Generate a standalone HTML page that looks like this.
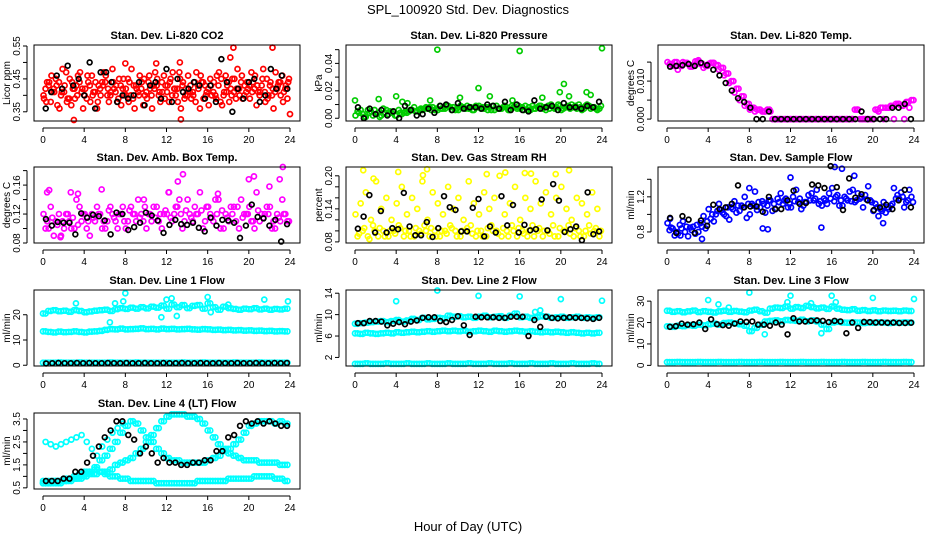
<!DOCTYPE html>
<html><head><meta charset="utf-8"><style>
body{margin:0;background:#fff;}
svg{display:block;font-family:"Liberation Sans",sans-serif;}
</style></head><body>
<svg id="chart" width="936" height="540" viewBox="0 0 936 540">
<rect x="0" y="0" width="936" height="540" fill="#fff"/>
<text x="468" y="14" text-anchor="middle" font-size="13">SPL_100920  Std. Dev. Diagnostics</text>
<text x="468" y="531" text-anchor="middle" font-size="13">Hour of Day (UTC)</text>
</svg>
<script>
// ---- data ----
const hourTicks = [0,4,8,12,16,20,24];
// CO2 (ppm)
const co2A = [0.42,0.38,0.45,0.40,0.47,0.37,0.43,0.41,0.39,0.46,0.36,0.44,0.40,0.48,0.38,0.42,0.45,0.39,0.41,0.37,0.44,0.43,0.40,0.46,0.38,0.42,0.47,0.39,0.41,0.44,0.36,0.43,0.45,0.40,0.38,0.46,0.42,0.39,0.44,0.41,0.47,0.37,0.43,0.45,0.40,0.42,0.46,0.39];
const co2B = [0.39,0.44,0.41,0.36,0.43,0.45,0.39,0.47,0.42,0.38,0.44,0.40,0.46,0.41,0.43,0.37,0.40,0.48,0.42,0.44,0.39,0.36,0.45,0.41,0.43,0.47,0.38,0.44,0.46,0.40,0.42,0.39,0.37,0.44,0.47,0.41,0.38,0.45,0.40,0.43,0.39,0.46,0.41,0.38,0.44,0.47,0.40,0.43];
const co2C = [0.44,0.41,0.37,0.48,0.39,0.42,0.46,0.36,0.44,0.41,0.43,0.47,0.38,0.42,0.45,0.40,0.44,0.36,0.46,0.40,0.42,0.47,0.38,0.43,0.45,0.40,0.36,0.42,0.39,0.47,0.44,0.41,0.40,0.46,0.37,0.43,0.45,0.48,0.39,0.42,0.44,0.41,0.48,0.40,0.36,0.44,0.41,0.45];
const co2D = [0.40,0.43,0.42,0.44,0.41,0.39,0.42,0.44,0.40,0.43,0.41,0.42,0.44,0.40,0.41,0.43,0.42,0.40,0.43,0.42,0.41,0.40,0.43,0.44,0.41,0.40,0.42,0.43,0.40,0.41,0.43,0.44,0.42,0.41,0.43,0.40,0.44,0.41,0.42,0.40,0.43,0.42,0.40,0.41,0.43,0.41,0.44,0.42];
const co2E = [0.38,0.46,0.43,0.41,0.38,0.44,0.40,0.42,0.46,0.40,0.38,0.43,0.42,0.44,0.39,0.45,0.38,0.43,0.40,0.45,0.46,0.42,0.41,0.39,0.44,0.42,0.45,0.40,0.43,0.38,0.46,0.40,0.43,0.39,0.45,0.41,0.40,0.42,0.46,0.44,0.41,0.43,0.45,0.39,0.42,0.43,0.38,0.44];
const co2OutX = [3.0,13.4,18.5,22.3,24.0,11.0,13.3,8.0,18.2];
const co2OutY = [0.325,0.327,0.545,0.545,0.343,0.497,0.500,0.497,0.515];
const co2K = [0.36,0.41,0.46,0.42,0.49,0.43,0.45,0.40,0.50,0.36,0.47,0.47,0.44,0.38,0.40,0.39,0.40,0.44,0.37,0.43,0.44,0.39,0.48,0.38,0.45,0.41,0.42,0.44,0.43,0.39,0.43,0.38,0.51,0.44,0.35,0.42,0.39,0.44,0.45,0.38,0.40,0.48,0.42,0.46,0.42];
// Pressure (kPa)
const prA = [0.005,0.003,0.006,0.002,0.004,0.007,0.003,0.005,0.006,0.004,0.005,0.008,0.006,0.007,0.008,0.006,0.009,0.007,0.008,0.006,0.009,0.007,0.008,0.009,0.007,0.008,0.006,0.009,0.007,0.008,0.009,0.007,0.008,0.006,0.009,0.008,0.007,0.009,0.008,0.010,0.007,0.009,0.008,0.010,0.007,0.009,0.008,0.007];
const prB = [0.002,0.006,0.001,0.005,0.003,0.002,0.006,0.004,0.002,0.003,0.004,0.006,0.005,0.006,0.007,0.008,0.006,0.007,0.009,0.008,0.006,0.008,0.007,0.006,0.009,0.007,0.008,0.006,0.007,0.009,0.006,0.008,0.007,0.009,0.006,0.007,0.009,0.006,0.010,0.008,0.006,0.008,0.010,0.007,0.006,0.010,0.008,0.006];
const prC = [0.004,0.001,0.004,0.006,0.001,0.004,0.005,0.002,0.004,0.005,0.006,0.005,0.007,0.008,0.006,0.007,0.007,0.009,0.006,0.007,0.008,0.009,0.006,0.008,0.008,0.006,0.009,0.007,0.008,0.006,0.008,0.009,0.006,0.008,0.007,0.009,0.008,0.007,0.007,0.009,0.008,0.007,0.009,0.008,0.009,0.007,0.007,0.009];
const prOutX = [0.0,2.3,4.0,7.3,8.0,16.0,24.0,10.2,12.0,13.1,18.2,19.9,20.3,20.8,22.5,22.9,4.6,5.1,15.3];
const prOutY = [0.013,0.014,0.016,0.013,0.050,0.049,0.051,0.015,0.022,0.016,0.015,0.019,0.025,0.016,0.019,0.017,0.012,0.011,0.013];
const prK = [0.008,0.000,0.007,0.003,0.006,0.002,0.005,0.000,0.009,0.006,0.002,0.003,0.007,0.004,0.009,0.010,0.006,0.011,0.007,0.008,0.008,0.007,0.010,0.009,0.007,0.012,0.006,0.010,0.006,0.005,0.013,0.007,0.008,0.009,0.006,0.011,0.008,0.008,0.007,0.009,0.008,0.012];
// Li-820 Temp (deg C)
const tpA = [0.0145,0.0150,0.0140,0.0148,0.0138,0.0152,0.0145,0.0140,0.0148,0.0142,0.0135,0.0120,0.0100,0.0080,0.0060,0.0040,0.0030,0.0025,0.0020,0.0025,0.0000,0.0000,0.0000,0.0000,0.0000,0.0000,0.0000,0.0000,0.0000,0.0000,0.0000,0.0000,0.0000,0.0000,0.0000,0.0000,0.0025,0.0000,0.0000,0.0000,0.0025,0.0030,0.0030,0.0035,0.0040,0.0035,0.0045,0.0050];
const tpB = [0.0150,0.0140,0.0130,0.0150,0.0145,0.0142,0.0155,0.0135,0.0145,0.0148,0.0130,0.0115,0.0095,0.0070,0.0050,0.0035,0.0025,0.0020,0.0025,0.0020,0.0020,0.0000,0.0000,0.0000,0.0000,0.0000,0.0000,0.0000,0.0000,0.0000,0.0000,0.0000,0.0000,0.0000,0.0000,0.0000,0.0000,0.0025,0.0000,0.0000,0.0000,0.0020,0.0000,0.0030,0.0000,0.0040,0.0000,0.0030];
const tpK = [0.0138,0.0140,0.0142,0.0145,0.0140,0.0148,0.0142,0.0130,0.0115,0.0095,0.0075,0.0055,0.0045,0.0030,0.0000,0.0000,0.0020,0.0000,0.0000,0.0000,0.0000,0.0000,0.0000,0.0000,0.0000,0.0000,0.0000,0.0000,0.0000,0.0000,0.0000,0.0020,0.0000,0.0000,0.0000,0.0000,0.0030,0.0030,0.0040,0.0000];
// Amb box temp
const abA = [0.10,0.13,0.11,0.09,0.12,0.10,0.14,0.11,0.10,0.12,0.13,0.10,0.11,0.12,0.10,0.13,0.11,0.12,0.14,0.11,0.12,0.13,0.11,0.12,0.15,0.12,0.14,0.11,0.12,0.13,0.15,0.11,0.12,0.14,0.10,0.12,0.13,0.11,0.14,0.12,0.11,0.15,0.12,0.13,0.10,0.12,0.14,0.11];
const abB = [0.12,0.10,0.09,0.12,0.10,0.11,0.10,0.13,0.12,0.09,0.11,0.12,0.10,0.13,0.11,0.12,0.10,0.13,0.11,0.12,0.10,0.11,0.13,0.10,0.12,0.11,0.13,0.10,0.14,0.11,0.12,0.10,0.13,0.11,0.14,0.10,0.11,0.13,0.10,0.12,0.13,0.10,0.11,0.12,0.13,0.10,0.11,0.12];
const abC = [0.11,0.115,0.105,0.11,0.12,0.115,0.105,0.12,0.11,0.115,0.12,0.11,0.125,0.115,0.12,0.11,0.125,0.12,0.115,0.13,0.12,0.115,0.12,0.125,0.115,0.13,0.12,0.125,0.115,0.12,0.125,0.13,0.115,0.12,0.125,0.115,0.12,0.13,0.115,0.12,0.11,0.125,0.115,0.12,0.11,0.115,0.12,0.11];
const abOutX = [0.4,0.6,2.7,3.4,5.7,13.6,13.1,20.0,20.5,22.0,23.0,23.3,12.2,17.0,9.8,1.7];
const abOutY = [0.150,0.153,0.150,0.148,0.154,0.175,0.165,0.168,0.172,0.158,0.168,0.185,0.150,0.148,0.140,0.088];
const abK = [0.113,0.104,0.109,0.108,0.108,0.092,0.121,0.115,0.119,0.117,0.111,0.092,0.122,0.120,0.098,0.102,0.108,0.122,0.118,0.111,0.094,0.105,0.112,0.106,0.105,0.108,0.101,0.096,0.115,0.104,0.112,0.111,0.108,0.087,0.104,0.133,0.116,0.114,0.104,0.112,0.082,0.106];
// Gas stream RH
const rhA = [0.09,0.10,0.09,0.11,0.09,0.10,0.09,0.10,0.11,0.09,0.10,0.09,0.10,0.11,0.09,0.10,0.09,0.10,0.11,0.10,0.09,0.10,0.11,0.09,0.10,0.09,0.11,0.10,0.09,0.10,0.11,0.09,0.10,0.09,0.11,0.10,0.09,0.10,0.11,0.09,0.10,0.11,0.09,0.10,0.09,0.11,0.10,0.09];
const rhB = [0.13,0.15,0.17,0.12,0.19,0.14,0.16,0.12,0.15,0.18,0.13,0.16,0.14,0.19,0.12,0.17,0.15,0.13,0.18,0.14,0.16,0.12,0.19,0.15,0.13,0.17,0.14,0.16,0.20,0.13,0.15,0.18,0.12,0.16,0.14,0.19,0.15,0.17,0.13,0.16,0.18,0.14,0.12,0.16,0.15,0.13,0.17,0.14];
const rhC = [0.095,0.105,0.085,0.10,0.105,0.09,0.10,0.095,0.105,0.10,0.09,0.105,0.095,0.10,0.105,0.09,0.10,0.095,0.105,0.09,0.10,0.105,0.095,0.10,0.09,0.105,0.10,0.095,0.105,0.09,0.10,0.105,0.095,0.10,0.09,0.105,0.10,0.095,0.09,0.105,0.10,0.095,0.105,0.09,0.10,0.095,0.105,0.10];
const rhOutX = [0.8,4.2,7.0,12.8,14.6,16.5,17.1,19.5,20.8,1.8,6.6];
const rhOutY = [0.210,0.207,0.212,0.203,0.206,0.205,0.204,0.203,0.210,0.195,0.201];
const rhK = [0.104,0.126,0.165,0.097,0.136,0.097,0.105,0.103,0.169,0.108,0.092,0.092,0.116,0.089,0.105,0.163,0.143,0.138,0.099,0.099,0.142,0.158,0.090,0.108,0.097,0.163,0.110,0.147,0.097,0.111,0.101,0.103,0.157,0.101,0.185,0.155,0.098,0.103,0.108,0.083,0.170,0.094,0.099];
// Sample flow
const sfA = [0.82,0.76,0.88,0.80,0.85,0.78,0.90,0.84,0.95,1.00,1.05,0.98,1.08,1.02,1.10,0.96,1.12,1.05,1.15,1.10,1.04,1.18,1.12,1.08,1.20,1.14,1.10,1.22,1.16,1.12,1.18,1.24,1.15,1.10,1.20,1.26,1.14,1.18,1.22,1.16,1.12,1.06,1.02,1.10,1.18,1.25,1.14,1.20];
const sfB = [0.90,0.84,0.78,0.92,0.75,0.86,0.80,0.98,1.06,0.92,1.12,1.00,0.94,1.15,1.04,1.20,1.00,1.26,1.08,1.02,1.16,1.06,1.24,1.18,1.08,1.28,1.06,1.14,1.24,1.28,1.10,1.12,1.30,1.22,1.10,1.16,1.28,1.24,1.08,1.32,1.04,0.98,1.14,1.06,1.30,1.18,1.08,1.28];
const sfC = [0.85,0.80,0.84,0.86,0.82,0.88,0.86,0.92,1.00,1.04,1.02,1.08,1.06,1.10,1.08,1.12,1.10,1.14,1.12,1.16,1.12,1.14,1.16,1.12,1.15,1.18,1.14,1.16,1.18,1.15,1.16,1.18,1.20,1.16,1.18,1.15,1.16,1.20,1.17,1.14,1.08,1.04,1.08,1.12,1.22,1.20,1.16,1.14];
const sfOutX = [0.3,3.4,1.3,8.0,12.0,16.3,17.0,18.2,9.3,9.8,21.0,15.0];
const sfOutY = [0.95,0.72,0.76,1.30,1.42,1.54,1.52,1.44,0.84,0.83,0.90,0.85];
const sfK = [0.96,0.79,0.98,0.94,0.79,0.93,0.87,1.11,1.06,1.08,1.12,1.33,1.08,1.09,1.09,1.03,1.20,1.06,1.06,1.16,1.27,1.12,1.13,1.34,1.33,1.30,1.55,1.31,1.05,1.41,1.19,1.23,1.16,1.05,1.08,1.11,1.06,1.16,1.28,1.08];
// Line 1 flow
const l1Hi = [20.5,21.5,21.8,21.4,21.6,21.2,21.8,21.5,21.0,21.3,21.6,21.8,22.0,21.5,22.2,22.6,22.3,22.8,22.4,23.0,22.5,23.2,22.8,23.6,22.4,24.0,23.0,23.8,22.6,23.5,23.8,22.4,24.5,23.0,22.0,23.2,22.6,22.3,22.0,22.4,22.2,22.6,22.1,22.4,22.0,22.3,22.1,22.4];
const l1Mid = [13.4,13.2,13.0,13.3,13.1,13.2,13.4,13.2,13.0,13.3,13.4,13.6,14.0,14.3,14.2,14.5,14.2,14.3,14.4,14.6,14.3,14.4,14.2,14.5,14.3,14.4,14.2,14.3,14.4,14.2,14.1,14.3,14.2,14.0,14.1,13.9,14.0,13.8,13.9,13.7,13.8,13.6,13.7,13.5,13.6,13.4,13.5,13.4];
const l1Lo = [1.0,1.0,1.0,1.1,1.0,1.0,1.0,1.1,1.0,1.0,1.0,1.0,1.0,1.1,1.0,1.0,1.0,1.0,1.1,1.0,1.0,1.0,1.0,1.0,1.0,1.0,1.0,1.1,1.0,1.0,1.0,1.1,1.0,1.0,1.0,1.0,1.0,1.1,1.0,1.0,1.0,1.0,1.1,1.0,1.0,1.0,1.0,1.0];
const l1OutX = [7.0,7.8,8.0,3.2,12.0,11.5,12.5,13.0,16.0,16.3,21.5,23.8,6.5,18.0];
const l1OutY = [24.5,25.3,28.5,24.5,26.0,19.0,26.5,19.5,27.0,21.0,26.0,25.3,17.0,24.0];
const l1K = [0.7,0.8,0.9,0.8,0.8,0.9,0.8,0.9,0.8,0.8,0.9,0.8,0.8,0.9,0.8,0.8,0.9,0.8,0.8,0.9,0.8,0.8,0.9,0.8,0.8,0.9,0.8,0.8,0.9,0.8,0.8,0.9,0.8,0.8,0.9,0.8,0.8,0.9,0.8,0.9];
// Line 2 flow
const l2Hi = [8.3,8.4,8.5,8.6,8.7,8.8,8.6,8.8,9.0,8.7,8.9,9.2,9.0,9.4,9.1,9.2,9.4,9.3,9.8,9.6,9.7,9.5,9.6,9.4,9.6,9.8,9.5,9.6,9.7,9.4,9.8,10.2,9.5,9.6,9.4,9.5,9.7,9.6,9.4,9.5,9.6,9.4,9.5,9.6,9.4,9.5,9.4,9.5];
const l2Mid = [6.5,6.4,6.6,6.5,6.4,6.5,6.6,6.5,6.7,6.6,6.7,6.8,6.7,6.8,6.9,6.8,6.9,7.0,6.9,7.0,6.9,7.0,6.8,6.9,7.0,6.9,6.8,7.0,6.9,6.8,6.9,7.0,6.9,6.8,6.9,6.8,6.7,6.8,6.7,6.8,6.7,6.6,6.7,6.6,6.5,6.6,6.5,6.6];
const l2Lo = [0.8,0.8,0.9,0.8,0.8,0.8,0.9,0.8,0.8,0.8,0.9,0.8,0.8,0.8,0.9,0.8,0.8,0.8,0.9,0.8,0.8,0.8,0.9,0.8,0.8,0.8,0.9,0.8,0.8,0.8,0.9,0.8,0.8,0.8,0.9,0.8,0.8,0.8,0.9,0.8,0.8,0.8,0.9,0.8,0.8,0.8,0.9,0.8];
const l2OutX = [4.0,8.0,12.0,16.0,20.0,24.0,17.5,18.0];
const l2OutY = [12.5,14.5,13.5,13.4,12.9,12.6,10.5,10.8];
const l2K = [8.4,8.4,8.8,8.8,8.7,8.0,8.3,8.6,8.2,8.7,8.9,9.4,9.5,9.5,8.8,8.6,9.0,9.7,8.0,6.2,9.6,9.5,9.5,9.5,9.4,9.4,9.6,9.6,9.6,6.0,9.0,7.7,9.6,9.4,9.3,9.4,9.5,9.4,9.4,9.3,9.2,9.4];
// Line 3 flow
const l3Hi = [25.5,25.0,25.3,24.8,25.2,25.6,24.9,25.3,25.0,24.7,25.2,25.5,25.0,25.4,25.1,24.8,25.6,26.0,25.3,24.6,26.5,27.0,26.8,27.5,26.5,27.2,26.8,27.8,27.2,26.6,27.0,26.4,27.5,26.5,26.0,25.8,26.2,25.5,25.8,25.4,25.7,25.3,25.6,25.4,25.5,25.3,25.6,25.4];
const l3Mid = [18.2,18.0,18.5,18.3,18.8,18.5,19.0,18.7,19.2,19.5,19.0,19.8,20.0,19.6,19.2,18.5,16.0,17.5,19.0,20.5,20.8,21.0,20.6,21.2,21.0,20.8,21.3,20.6,21.0,20.5,19.0,17.0,20.0,20.3,20.0,19.9,20.1,20.0,19.8,20.0,19.9,20.1,20.0,19.8,20.0,19.9,20.1,20.0];
const l3Lo = [1.5,1.5,1.6,1.5,1.5,1.5,1.6,1.5,1.5,1.5,1.6,1.5,1.5,1.5,1.6,1.5,1.5,1.5,1.6,1.5,1.5,1.5,1.6,1.5,1.5,1.5,1.6,1.5,1.5,1.5,1.6,1.5,1.5,1.5,1.6,1.5,1.5,1.5,1.6,1.5,1.5,1.5,1.6,1.5,1.5,1.5,1.6,1.5];
const l3OutX = [4.0,8.0,12.0,16.0,20.0,24.0,5.0,15.0,6.0,9.5,11.7,14.0,16.4];
const l3OutY = [30.5,34.0,32.5,32.5,31.5,31.0,28.5,15.0,27.0,14.5,29.5,29.0,29.5];
const l3K = [18.0,18.3,19.5,19.0,19.2,20.0,17.0,21.5,19.2,18.8,18.5,19.5,20.5,20.3,20.5,19.0,19.0,18.5,20.0,19.0,14.5,22.0,20.5,20.5,20.8,21.0,20.8,20.2,20.8,20.5,15.0,20.0,17.5,20.3,20.2,20.0,20.0,19.9,20.0,19.8,19.8,19.9];
// Line 4 (LT) flow — four traces
const l4A = [0.8,0.8,0.8,0.8,0.8,0.9,0.9,1.0,1.1,1.2,1.4,1.7,1.9,2.2,2.5,2.9,3.2,3.4,3.3,3.0,2.7,2.5,2.2,2.0,1.8,1.7,1.7,1.6,1.6,1.6,1.6,1.6,1.7,1.8,1.9,2.1,2.2,2.4,2.6,2.9,3.2,3.3,3.4,3.4,3.4,3.3,3.4,3.3];
const l4B = [0.7,0.7,0.8,0.8,0.9,0.9,1.0,1.1,1.2,1.2,1.3,1.2,1.2,1.3,1.5,1.6,1.7,1.8,2.0,2.2,2.5,2.8,3.1,3.4,3.6,3.7,3.7,3.7,3.6,3.6,3.5,3.3,3.0,2.7,2.4,2.2,2.0,1.9,1.8,1.7,1.7,1.7,1.6,1.6,1.6,1.6,1.5,1.5];
const l4C = [0.7,0.7,0.7,0.7,0.8,0.8,0.9,0.9,1.0,1.1,1.1,1.2,1.1,1.0,1.0,0.9,0.9,0.8,0.8,0.8,0.8,0.8,0.7,0.7,0.7,0.7,0.7,0.7,0.7,0.7,0.8,0.8,0.8,0.8,0.8,0.8,0.9,0.9,0.9,0.9,0.9,1.0,1.0,1.0,1.0,0.9,0.9,0.8];
const l4D = [2.5,2.4,2.3,2.4,2.5,2.6,2.7,2.8,2.5,2.2,1.9,2.3,2.6,2.9,3.1,3.3];
const l4K = [0.8,0.8,0.8,0.9,0.9,1.2,1.2,1.6,1.9,2.3,2.7,3.0,3.4,3.4,2.8,2.6,2.0,2.3,2.0,1.6,1.8,1.6,1.6,1.5,1.5,1.6,1.6,1.7,1.7,2.1,2.1,2.7,2.8,3.2,3.4,3.3,3.4,3.3,3.4,3.3,3.2,3.2];

// ---- layout ----
const NS = 'http://www.w3.org/2000/svg';
const svg = document.getElementById('chart');
const colLeft = [34,346,658], rowTop = [45,167,290,413], boxW = 266, boxH = 76;
function mk(tag, attrs, parent){const e=document.createElementNS(NS,tag);for(const k in attrs)e.setAttribute(k,attrs[k]);(parent||svg).appendChild(e);return e;}
function spread(n){const a=[];for(let i=0;i<n;i++)a.push((i+0.5)*24/n);return a;}
function spreadOff(n,o){const a=[];for(let i=0;i<n;i++)a.push((i+o)*24/n);return a;}

const panels = [
 {id:'co2',title:'Stan. Dev. Li-820 CO2',ylab:'Licor ppm',col:0,row:0,ylim:[0.322,0.553],ticks:[0.35,0.40,0.45,0.50,0.55],labels:['0.35','','0.45','','0.55'],color:'#ff0000',
  series:[[null,co2A],[spreadOff(48,0.2),co2B],[spreadOff(48,0.8),co2C],[spreadOff(48,0.1),co2D],[spreadOff(48,0.65),co2E],[co2OutX,co2OutY]],black:co2K},
 {id:'pressure',title:'Stan. Dev. Li-820 Pressure',ylab:'kPa',col:1,row:0,ylim:[-0.002,0.0534],ticks:[0,0.01,0.02,0.03,0.04,0.05],labels:['0.00','','0.02','','0.04',''],color:'#00cc00',
  series:[[null,prA],[spreadOff(48,0.1),prB],[spreadOff(48,0.8),prC],[prOutX,prOutY]],black:prK},
 {id:'li820-temp',title:'Stan. Dev. Li-820 Temp.',ylab:'degrees C',col:2,row:0,ylim:[-0.0005,0.0195],ticks:[0,0.005,0.010,0.015],labels:['0.000','','0.010',''],color:'#ff00ff',
  series:[[null,tpA],[spreadOff(48,0.1),tpB],[spreadOff(48,0.9),tpA]],black:tpK},
 {id:'amb-box-temp',title:'Stan. Dev. Amb. Box Temp.',ylab:'degrees C',col:0,row:1,ylim:[0.08,0.185],ticks:[0.08,0.10,0.12,0.14,0.16,0.18],labels:['0.08','','0.12','','0.16',''],color:'#ff00ff',
  series:[[null,abA],[spreadOff(48,0.1),abB],[spreadOff(48,0.8),abC],[abOutX,abOutY]],black:abK},
 {id:'gas-stream-rh',title:'Stan. Dev. Gas Stream RH',ylab:'percent',col:1,row:1,ylim:[0.078,0.216],ticks:[0.08,0.10,0.12,0.14,0.16,0.18,0.20],labels:['0.08','','','0.14','','','0.20'],color:'#ffff00',
  series:[[null,rhA],[spreadOff(48,0.1),rhB],[spreadOff(48,0.8),rhC],[rhOutX,rhOutY]],black:rhK},
 {id:'sample-flow',title:'Stan. Dev. Sample Flow',ylab:'ml/min',col:2,row:1,ylim:[0.674,1.54],ticks:[0.8,1.0,1.2,1.4],labels:['0.8','','1.2',''],color:'#0000ff',
  series:[[null,sfA],[spreadOff(48,0.1),sfB],[spreadOff(48,0.8),sfC],[sfOutX,sfOutY]],black:sfK},
 {id:'line1-flow',title:'Stan. Dev. Line 1 Flow',ylab:'ml/min',col:0,row:2,ylim:[-0.3,29.8],ticks:[0,10,20],labels:['0','10','20'],color:'#00ffff',
  series:[[null,l1Hi],[spreadOff(48,0),l1Hi],[null,l1Mid],[spreadOff(48,0),l1Mid],[null,l1Lo],[spreadOff(48,0),l1Lo],[l1OutX,l1OutY]],black:l1K},
 {id:'line2-flow',title:'Stan. Dev. Line 2 Flow',ylab:'ml/min',col:1,row:2,ylim:[0.4,14.6],ticks:[2,6,10,14],labels:['2','6','10','14'],color:'#00ffff',
  series:[[null,l2Hi],[spreadOff(48,0),l2Hi],[null,l2Mid],[spreadOff(48,0),l2Mid],[null,l2Lo],[spreadOff(48,0),l2Lo],[l2OutX,l2OutY]],black:l2K},
 {id:'line3-flow',title:'Stan. Dev. Line 3 Flow',ylab:'ml/min',col:2,row:2,ylim:[-0.3,35.2],ticks:[0,10,20,30],labels:['0','10','20','30'],color:'#00ffff',
  series:[[null,l3Hi],[spreadOff(48,0),l3Hi],[null,l3Mid],[spreadOff(48,0),l3Mid],[null,l3Lo],[spreadOff(48,0),l3Lo],[l3OutX,l3OutY]],black:l3K},
 {id:'line4-flow',title:'Stan. Dev. Line 4 (LT) Flow',ylab:'ml/min',col:0,row:3,ylim:[0.45,3.76],ticks:[0.5,1.0,1.5,2.0,2.5,3.0,3.5],labels:['0.5','','1.5','','2.5','','3.5'],color:'#00ffff',
  series:[[null,l4A],[spreadOff(48,0),l4A],[null,l4B],[spreadOff(48,0),l4B],[null,l4C],[spreadOff(48,0),l4C],[spread(48).slice(0,16),l4D]],black:l4K}
];

panels.forEach(p=>{
  const L=colLeft[p.col], T=rowTop[p.row];
  const xs = h => L+9+h*(247/24);
  const ys = v => T+boxH-(v-p.ylim[0])/(p.ylim[1]-p.ylim[0])*boxH;
  const g = mk('g',{});
  
  
  const t = mk('text',{x:L+boxW/2,y:T-6,'text-anchor':'middle','font-size':11,'font-weight':'bold'},g);
  t.textContent=p.title;
  
  
  const xa = mk('g',{},g);
  
  
  mk('line',{x1:xs(0),x2:xs(24),y1:T+boxH+7,y2:T+boxH+7,stroke:'#000'},xa);
  hourTicks.forEach(h=>{
    mk('line',{x1:xs(h),x2:xs(h),y1:T+boxH+7,y2:T+boxH+11,stroke:'#000'},xa);
    const tl=mk('text',{x:xs(h),y:T+boxH+22,'text-anchor':'middle','font-size':10},xa);
    tl.textContent=h;
  });
  const ya = mk('g',{},g);
  
  
  mk('line',{x1:L-7,x2:L-7,y1:ys(p.ticks[0]),y2:ys(p.ticks[p.ticks.length-1]),stroke:'#000'},ya);
  p.ticks.forEach((v,i)=>{
    mk('line',{x1:L-11,x2:L-7,y1:ys(v),y2:ys(v),stroke:'#000'},ya);
    if(p.labels[i]){
      const tl=mk('text',{x:L-14,y:ys(v),'text-anchor':'middle','font-size':10,transform:`rotate(-90 ${L-14} ${ys(v)})`},ya);
      tl.textContent=p.labels[i];
    }
  });
  const yt=mk('text',{x:L-24,y:T+boxH/2,'text-anchor':'middle','font-size':10,transform:`rotate(-90 ${L-24} ${T+boxH/2})`},ya);
  yt.textContent=p.ylab;
  
  
  const pts = mk('g',{fill:'none','stroke-width':1.7},g);
  
  
  p.series.forEach(([xArr,yArr])=>{
    const xx = xArr || spread(yArr.length);
    yArr.forEach((v,i)=>{
      const c=mk('circle',{cx:xs(xx[i]),cy:ys(v),r:2.5,stroke:p.color},pts);
      
      
    });
  });
  const bx = spread(p.black.length);
  p.black.forEach((v,i)=>{
    const c=mk('circle',{cx:xs(bx[i]),cy:ys(v),r:2.4,stroke:'#000'},pts);
    
    
  });
  const box = mk('rect',{x:L,y:T,width:boxW,height:boxH,fill:'none',stroke:'#000'},g);
  
  
});
</script>
</body></html>
